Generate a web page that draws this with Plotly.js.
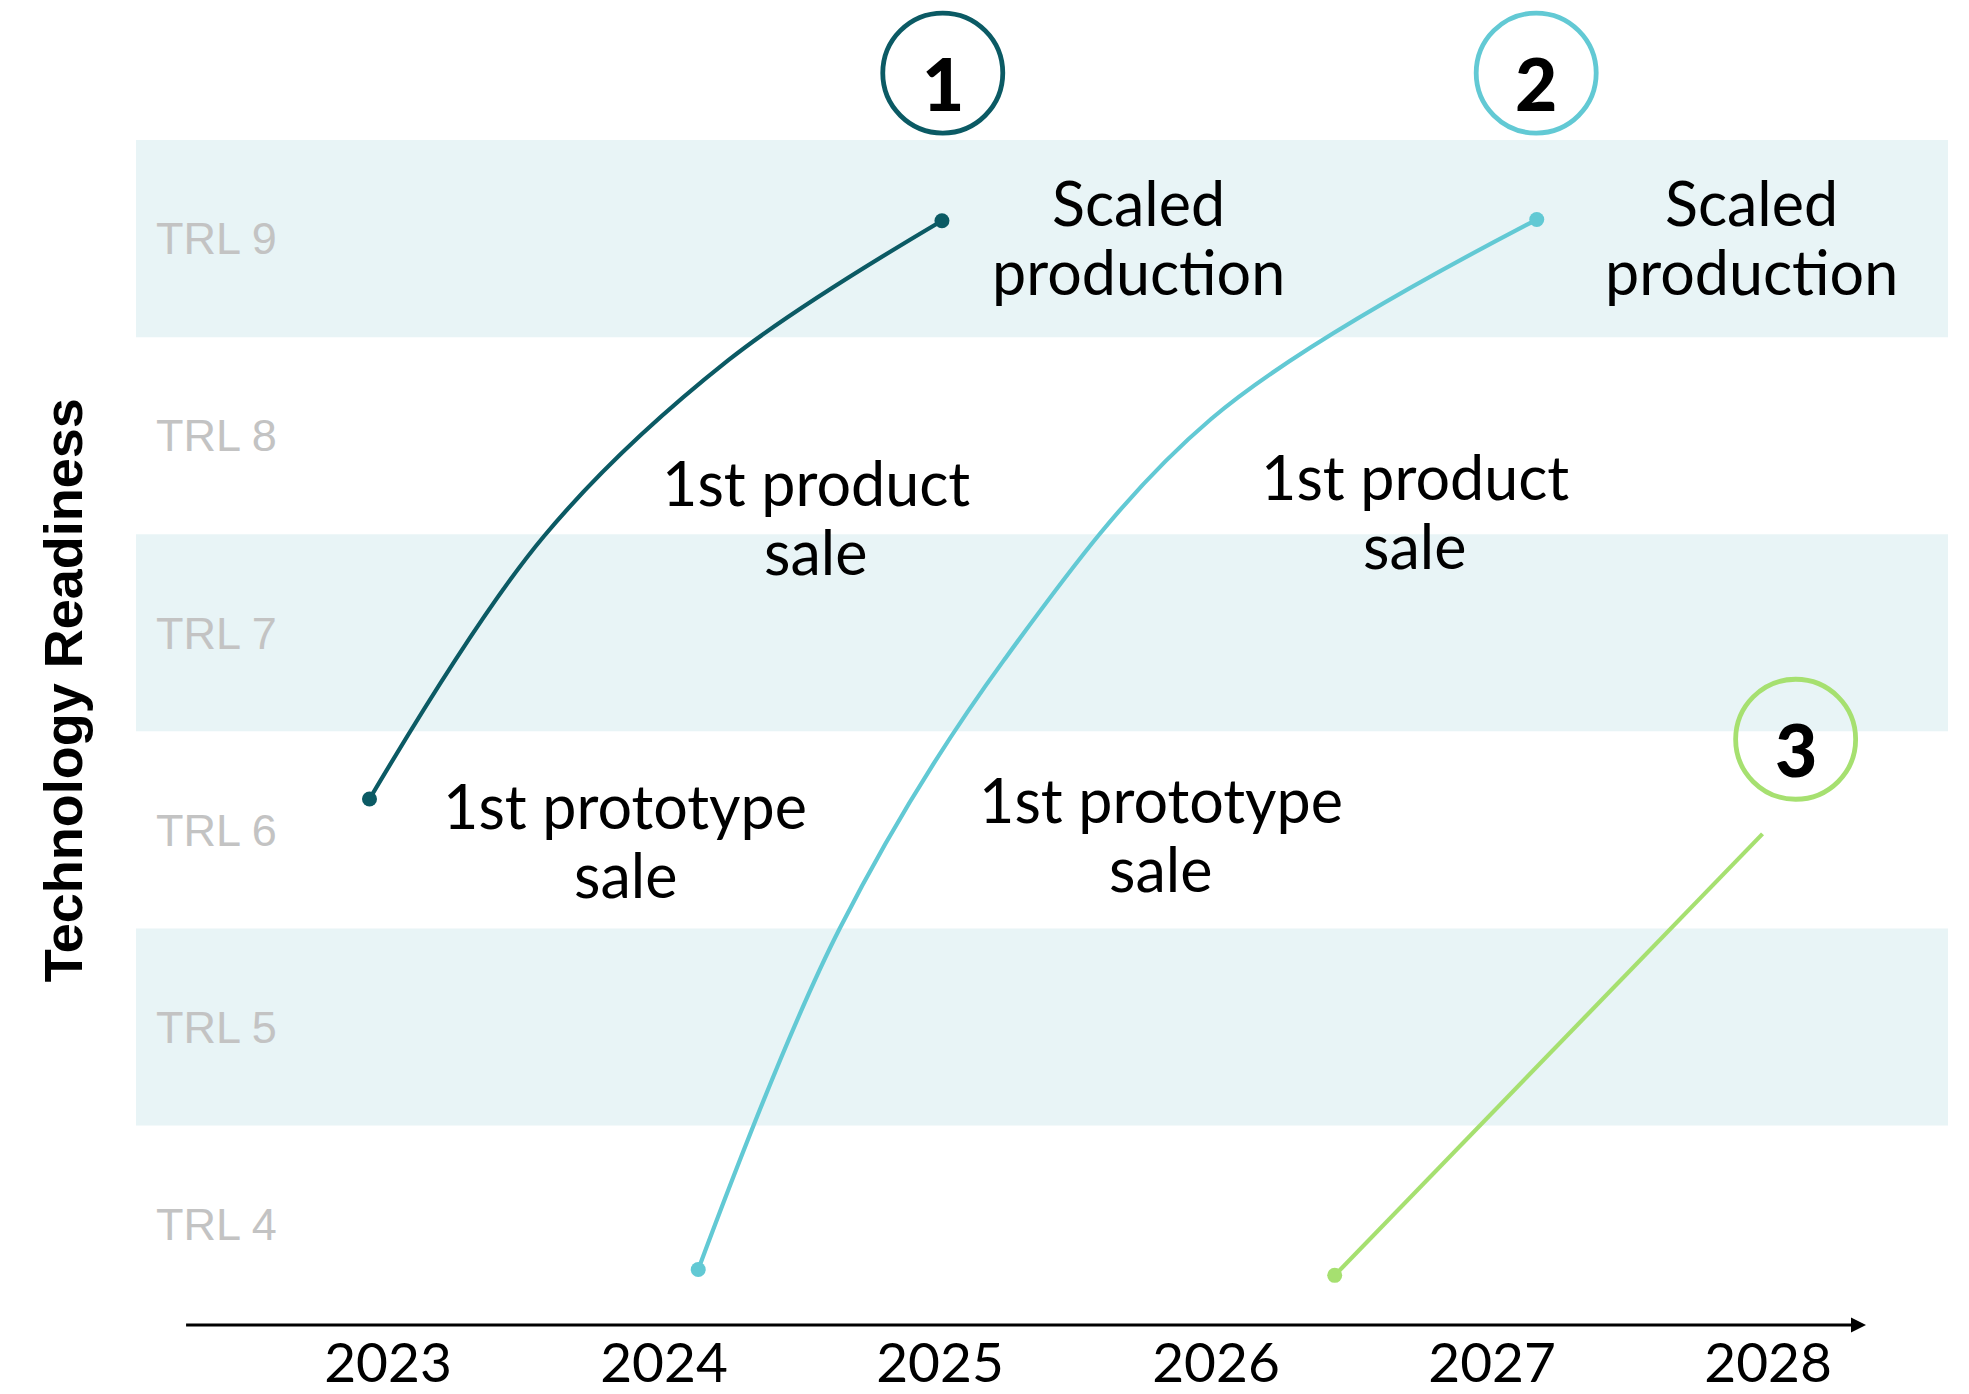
<!DOCTYPE html>
<html>
<head>
<meta charset="utf-8">
<script src="https://cdn.plot.ly/plotly-3.0.1.min.js"></script>
<style>
  html, body { margin: 0; padding: 0; background: #ffffff; }
  #chart { width: 1969px; height: 1394px; }
</style>
</head>
<body>
<div id="chart"></div>
<script>
// ---- data ----
const years = [2023, 2024, 2025, 2026, 2027, 2028];
const yearLabels = ["2023", "2024", "2025", "2026", "2027", "2028"];
const trlLevels = [4, 5, 6, 7, 8, 9];
const trlLabels = ["TRL 4", "TRL 5", "TRL 6", "TRL 7", "TRL 8", "TRL 9"];
const bandLevels = [9, 7, 5];

// pathway 1 (dark teal)
const path1X = [2022.933, 2023.565, 2024.232, 2025.007];
const path1Y = [6.157, 7.490, 8.382, 9.091];
// pathway 2 (light teal)
const path2X = [2024.124, 2024.637, 2025.233, 2025.982, 2027.162];
const path2Y = [3.770, 5.501, 6.864, 8.085, 9.097];
// pathway 3 (green)
const path3X = [2026.43, 2027.98];
const path3Y = [3.74, 5.98];

// numbered badges
const badgeLabels = ["1", "2", "3"];
const badgeX = [2025.01, 2027.16, 2028.10];
const badgeY = [9.84, 9.84, 6.46];

// milestone labels (two lines each)
const milestoneLine1 = ["Scaled", "Scaled", "1st product", "1st product", "1st prototype", "1st prototype"];
const milestoneLine2 = ["production", "production", "sale", "sale", "sale", "sale"];
const milestoneX = [2025.72, 2027.94, 2024.55, 2026.72, 2023.86, 2025.80];
const milestoneY = [9.01, 9.01, 7.59, 7.62, 5.95, 5.98];

const yTitle = "Technology Readiness";

// ---- styles ----
const C1 = "#0b5a64", C2 = "#62c9d4", C3 = "#a6e070";
const BAND = "#e8f4f6";
const textFont = "Lato, 'Noto Sans', sans-serif";
const badgeColors = [C1, C2, C3];

const traces = [
  {x: path1X, y: path1Y, mode: "lines", line: {color: C1, width: 4.2, shape: "spline", smoothing: 1}, hoverinfo: "skip"},
  {x: [path1X[0], path1X[path1X.length-1]], y: [path1Y[0], path1Y[path1Y.length-1]], mode: "markers",
   marker: {color: C1, size: 15}, hoverinfo: "skip"},
  {x: path2X, y: path2Y, mode: "lines", line: {color: C2, width: 4.2, shape: "spline", smoothing: 1}, hoverinfo: "skip"},
  {x: [path2X[0], path2X[path2X.length-1]], y: [path2Y[0], path2Y[path2Y.length-1]], mode: "markers",
   marker: {color: C2, size: 15}, hoverinfo: "skip"},
  {x: path3X, y: path3Y, mode: "lines", line: {color: C3, width: 4.2}, hoverinfo: "skip"},
  {x: [path3X[0]], y: [path3Y[0]], mode: "markers", marker: {color: C3, size: 15}, hoverinfo: "skip"},
  {x: badgeX, y: badgeY, mode: "markers",
   marker: {symbol: "circle-open", size: 120, line: {width: 4.8}, color: badgeColors},
   cliponaxis: false, hoverinfo: "skip"}
];

const shapes = bandLevels.map(l => ({
  type: "rect", xref: "paper", yref: "y", x0: 0, x1: 1, y0: l - 0.5, y1: l + 0.5,
  fillcolor: BAND, line: {width: 0}, layer: "below"
}));

const annotations = [];
milestoneX.forEach((mx, i) => {
  [milestoneLine1[i], milestoneLine2[i]].forEach((t, j) => {
    annotations.push({
      x: mx, y: milestoneY[i], xref: "x", yref: "y", text: t, showarrow: false,
      xanchor: "center", yanchor: "middle", yshift: j === 0 ? 34.5 : -34.5,
      font: {family: textFont, size: 61, color: "#000000"}
    });
  });
});

badgeLabels.forEach((t, i) => {
  annotations.push({
    x: badgeX[i], y: badgeY[i], xref: "x", yref: "y", text: t, showarrow: false,
    xanchor: "center", yanchor: "middle", yshift: -10,
    font: {family: textFont, size: 73, color: "#000000", weight: 900}
  });
});

// time axis arrow
annotations.push({
  x: 2028.355, y: 3.488, ax: 2022.263, ay: 3.488, xref: "x", yref: "y", axref: "x", ayref: "y",
  text: "", showarrow: true, arrowhead: 2, arrowsize: 1, arrowwidth: 3, arrowcolor: "#000000",
  standoff: 0, startstandoff: 0
});

// y title
annotations.push({
  x: -0.0403, y: 0.4805, xref: "paper", yref: "paper", text: yTitle, showarrow: false,
  textangle: -90, xanchor: "center", yanchor: "middle",
  font: {family: "'Liberation Sans', Arial, sans-serif", size: 54, color: "#000000", weight: "bold"}
});

const layout = {
  width: 1969, height: 1394,
  margin: {l: 136, r: 21, t: 2, b: 67},
  paper_bgcolor: "#ffffff", plot_bgcolor: "#ffffff",
  showlegend: false,
  xaxis: {
    range: [2022.087, 2028.652], tickvals: years, ticktext: yearLabels,
    showgrid: false, zeroline: false, showline: false, ticks: "",
    tickfont: {family: textFont, size: 55, color: "#000000"},
    ticklabelstandoff: -1, fixedrange: true
  },
  yaxis: {
    range: [3.478, 10.2006], tickvals: trlLevels, ticktext: trlLabels,
    showgrid: false, zeroline: false, showline: false, ticks: "",
    ticklabelposition: "inside", ticklabelstandoff: 17,
    tickfont: {family: "'Liberation Sans', Arial, sans-serif", size: 45, color: "#c3c3c3"},
    fixedrange: true
  },
  shapes: shapes,
  annotations: annotations
};

Plotly.newPlot("chart", traces, layout, {displayModeBar: false, staticPlot: true});
</script>
</body>
</html>
